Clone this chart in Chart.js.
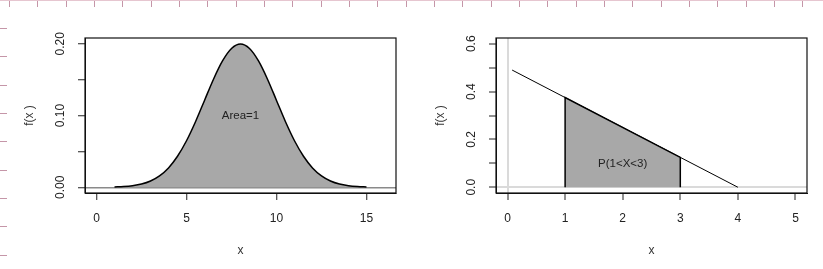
<!DOCTYPE html>
<html>
<head>
<meta charset="utf-8">
<script src="https://cdn.jsdelivr.net/npm/chart.js@4"></script>
<style>
  body { margin: 0; background: #fff; }
  #page { position: relative; width: 823px; height: 269px; overflow: hidden; }
  .panel { position: absolute; top: 0; }
  #rulerTop {
    position: absolute; left: 0; top: 0; width: 823px; height: 7px;
    background:
      linear-gradient(#e6c6d0, #e6c6d0) 0 0 / 100% 1px no-repeat,
      repeating-linear-gradient(to right, transparent 0 9px, #c596a8 9px 10px, transparent 10px 28.33px);
  }
  #rulerLeft {
    position: absolute; left: 0; top: 20px; width: 7px; height: 249px;
    background: repeating-linear-gradient(to bottom, transparent 0 8px, #c596a8 8px 9px, transparent 9px 28.33px);
  }
</style>
</head>
<body>
<div id="page">
  <div id="rulerTop"></div>
  <div id="rulerLeft"></div>
  <div class="panel" style="left:0"><canvas id="leftChart" width="411" height="269"></canvas></div>
  <div class="panel" style="left:411px"><canvas id="rightChart" width="412" height="269"></canvas></div>
</div>
<script>
// left panel: density curve
const normX = [1, 1.5, 2, 2.5, 3, 3.5, 4, 4.5, 5, 5.5, 6, 6.5, 7, 7.5, 8,
  8.5, 9, 9.5, 10, 10.5, 11, 11.5, 12, 12.5, 13, 13.5, 14, 14.5, 15];
const normY = [0.0004, 0.0010, 0.0022, 0.0045, 0.0088, 0.0159, 0.0270, 0.0432, 0.0648, 0.0913, 0.1210, 0.1506, 0.1760, 0.1933, 0.1995,
  0.1933, 0.1760, 0.1506, 0.1210, 0.0913, 0.0648, 0.0432, 0.0270, 0.0159, 0.0088, 0.0045, 0.0022, 0.0010, 0.0004];
const leftXTicks = [0, 5, 10, 15];
const leftYTicks = [0, 0.05, 0.1, 0.15, 0.2];
const leftYLabels = ["0.00", "", "0.10", "", "0.20"];
const leftText = { label: "Area=1", x: 8, y: 0.1 };

// right panel: straight-line density and the shaded part
const lineX = [0.08, 4];
const lineY = [0.49, 0];
const shadeX = [1, 1, 3, 3];
const shadeY = [0, 0.375, 0.125, 0];
const rightXTicks = [0, 1, 2, 3, 4, 5];
const rightYTicks = [0, 0.1, 0.2, 0.3, 0.4, 0.5, 0.6];
const rightYLabels = ["0.0", "", "0.2", "", "0.4", "", "0.6"];
const rightText = { label: "P(1<X<3)", x: 2, y: 0.1 };

Chart.defaults.font.family = "'Liberation Sans', Arial, sans-serif";
Chart.defaults.font.size = 12;
Chart.defaults.color = "#333";

const toPoints = (xs, ys) => xs.map((x, i) => ({ x: x, y: ys[i] }));

const boxPlugin = {
  id: "box",
  afterDraw(chart) {
    const { ctx, chartArea: a } = chart;
    ctx.save();
    ctx.strokeStyle = "#111";
    ctx.lineWidth = 1.2;
    ctx.strokeRect(a.left, a.top, a.right - a.left, a.bottom - a.top);
    ctx.restore();
  }
};

const textPlugin = {
  id: "areaText",
  afterDatasetsDraw(chart, args, opts) {
    const { ctx, scales } = chart;
    ctx.save();
    ctx.font = "11.5px 'Liberation Sans', Arial, sans-serif";
    ctx.fillStyle = "#222";
    ctx.textAlign = "center";
    ctx.textBaseline = "middle";
    ctx.fillText(opts.label, scales.x.getPixelForValue(opts.x), scales.y.getPixelForValue(opts.y));
    ctx.restore();
  }
};

function makeChart(id, datasets, cfg) {
  new Chart(document.getElementById(id), {
    type: "line",
    data: { datasets: datasets },
    plugins: [boxPlugin, textPlugin],
    options: {
      responsive: false,
      animation: false,
      devicePixelRatio: 1,
      layout: { padding: { top: 38, right: cfg.padRight, left: 0, bottom: 0 } },
      plugins: { legend: { display: false }, tooltip: { enabled: false }, areaText: cfg.text },
      elements: { point: { radius: 0 } },
      scales: {
        x: {
          type: "linear",
          min: cfg.xMin, max: cfg.xMax,
          z: 1,
          afterBuildTicks: s => { s.ticks = cfg.xTicks.map(v => ({ value: v })); },
          afterFit: s => { s.height = 76; },
          ticks: { padding: 11.5, maxRotation: 0, color: "#222", callback: v => String(v) },
          grid: {
            drawOnChartArea: cfg.vLine,
            color: c => (c.tick && c.tick.value === 0 ? cfg.refColor : "rgba(0,0,0,0)"),
            lineWidth: cfg.refWidth,
            tickColor: "#222",
            tickLength: 7,
            tickWidth: 1
          },
          border: { color: "#111", width: 1 },
          title: { display: true, text: "x", color: "#333", padding: { top: 0, bottom: 11 } }
        },
        y: {
          min: cfg.yMin, max: cfg.yMax,
          z: 1,
          afterBuildTicks: s => { s.ticks = cfg.yTicks.map(v => ({ value: v })); },
          afterFit: s => { s.width = 85; },
          ticks: {
            minRotation: 90, maxRotation: 90,
            crossAlign: "center",
            padding: cfg.yPad,
            color: "#222",
            callback: (v, i) => cfg.yLabels[i]
          },
          grid: {
            drawOnChartArea: true,
            color: c => (c.tick && c.tick.value === 0 ? cfg.refColor : "rgba(0,0,0,0)"),
            lineWidth: cfg.refWidth,
            tickColor: "#222",
            tickLength: 7,
            tickWidth: 1
          },
          border: { color: "#111", width: 1 },
          title: { display: true, text: "f(x )", color: "#333", padding: { top: 22, bottom: 0 } }
        }
      }
    }
  });
}

makeChart("leftChart", [
  {
    data: toPoints(normX, normY),
    borderColor: "#000",
    borderWidth: 1.5,
    backgroundColor: "#a8a8a8",
    fill: "origin",
    cubicInterpolationMode: "monotone"
  }
], {
  xMin: -0.64, xMax: 16.64, yMin: -0.008, yMax: 0.208,
  xTicks: leftXTicks, yTicks: leftYTicks, yLabels: leftYLabels,
  yPad: 5.3, padRight: 15, vLine: false,
  refColor: "#8a8a8a", refWidth: 1.5, text: leftText
});

makeChart("rightChart", [
  {
    data: toPoints(shadeX, shadeY),
    borderColor: "#000",
    borderWidth: 1.5,
    backgroundColor: "#a8a8a8",
    fill: "origin",
    tension: 0
  },
  {
    data: toPoints(lineX, lineY),
    borderColor: "#000",
    borderWidth: 1,
    fill: false,
    tension: 0
  }
], {
  xMin: -0.2, xMax: 5.2, yMin: -0.024, yMax: 0.624,
  xTicks: rightXTicks, yTicks: rightYTicks, yLabels: rightYLabels,
  yPad: 8.7, padRight: 16, vLine: true,
  refColor: "#dadada", refWidth: 2, text: rightText
});
</script>
</body>
</html>
